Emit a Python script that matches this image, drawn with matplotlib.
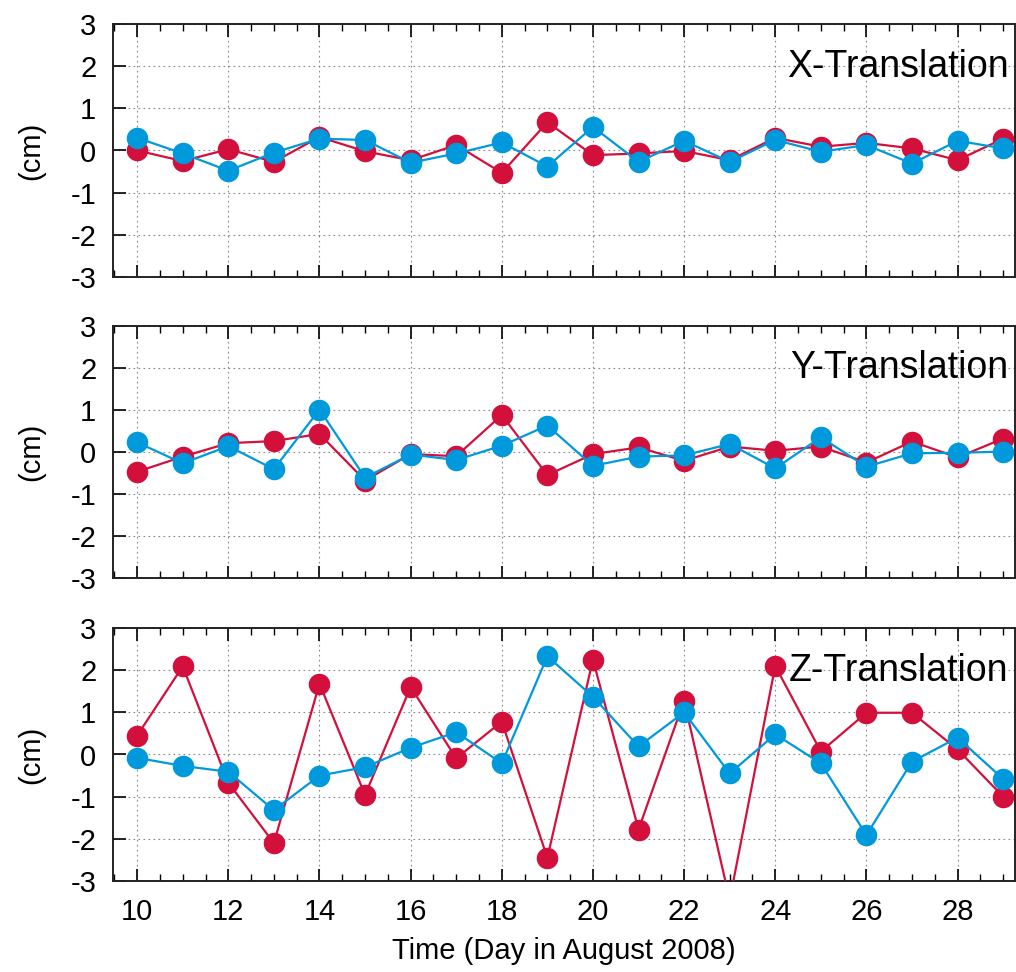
import numpy as np
import matplotlib
matplotlib.use("Agg")
import matplotlib.pyplot as plt
from matplotlib.ticker import MultipleLocator

# Datos (dias de agosto 2008)
days = list(range(10, 30))

x_red = [0.0, -0.25, 0.03, -0.27, 0.32, -0.02, -0.23, 0.13, -0.53, 0.67,
         -0.11, -0.07, -0.01, -0.23, 0.30, 0.09, 0.18, 0.05, -0.23, 0.28]
x_blue = [0.30, -0.07, -0.48, -0.05, 0.28, 0.25, -0.29, -0.07, 0.19, -0.38,
          0.56, -0.27, 0.23, -0.27, 0.25, -0.03, 0.13, -0.31, 0.23, 0.05]

y_red = [-0.47, -0.11, 0.21, 0.26, 0.43, -0.68, -0.05, -0.10, 0.88, -0.55,
         -0.05, 0.11, -0.21, 0.13, 0.03, 0.13, -0.25, 0.25, -0.13, 0.32]
y_blue = [0.23, -0.27, 0.14, -0.41, 1.01, -0.61, -0.06, -0.19, 0.15, 0.63,
          -0.33, -0.11, -0.08, 0.19, -0.39, 0.35, -0.35, -0.03, -0.02, 0.01]

z_red = [0.45, 2.09, -0.67, -2.10, 1.68, -0.96, 1.60, -0.09, 0.78, -2.45,
         2.25, -1.78, 1.28, -3.45, 2.10, 0.07, 0.99, 0.99, 0.12, -1.00]
z_blue = [-0.08, -0.27, -0.41, -1.32, -0.50, -0.30, 0.16, 0.53, -0.21, 2.33,
          1.37, 0.19, 1.00, -0.45, 0.48, -0.21, -1.91, -0.17, 0.40, -0.58]

titles = ["X-Translation", "Y-Translation", "Z-Translation"]
series = [(x_red, x_blue), (y_red, y_blue), (z_red, z_blue)]

RED = "#D3103C"
BLUE = "#0099DB"

plt.rcParams["font.family"] = ["Liberation Sans", "DejaVu Sans"]
plt.rcParams["axes.unicode_minus"] = False

fig = plt.figure(figsize=(10.16, 9.72), dpi=100)
W, H = 1016, 972
panels = [(24, 277), (326, 578), (628, 881)]  # top, bottom en pixeles
left, right = 113, 1015

for i, ((top, bot), title, (red, blue)) in enumerate(zip(panels, titles, series)):
    ax = fig.add_axes([left / W, 1 - bot / H, (right - left) / W, (bot - top) / H])
    ax.plot(days, red, "-o", color=RED, lw=1.6, ms=14.5, zorder=3)
    ax.plot(days, blue, "-o", color=BLUE, lw=1.6, ms=14.5, zorder=4)

    ax.set_xlim(9.47, 29.26)
    ax.set_ylim(-3, 3)
    ax.set_yticks(range(-3, 4))
    ax.xaxis.set_major_locator(MultipleLocator(2))
    ax.xaxis.set_minor_locator(MultipleLocator(0.5))
    ax.tick_params(axis="x", which="both", direction="in", top=True, bottom=True)
    ax.tick_params(axis="x", which="major", length=9, width=1.2, pad=12)
    ax.tick_params(axis="x", which="minor", length=5, width=1.0)
    ax.tick_params(axis="y", direction="in", length=9, width=1.2, right=False, pad=12)
    ax.tick_params(labelsize=21)
    ax.grid(True, which="major", linestyle=(0, (1.5, 3)), color="#888888", lw=0.8)
    for sp in ax.spines.values():
        sp.set_linewidth(1.4)
        sp.set_color("#222222")

    if i < 2:
        ax.tick_params(axis="x", labelbottom=False)
    else:
        ax.set_xlabel("Time (Day in August 2008)", fontsize=21, labelpad=8)
    ax.set_ylabel("(cm)", fontsize=21, labelpad=18)
    ax.text(0.993, 0.832, title, transform=ax.transAxes, ha="right", va="center",
            fontsize=27, zorder=5)

fig.savefig("out.png", dpi=100)
